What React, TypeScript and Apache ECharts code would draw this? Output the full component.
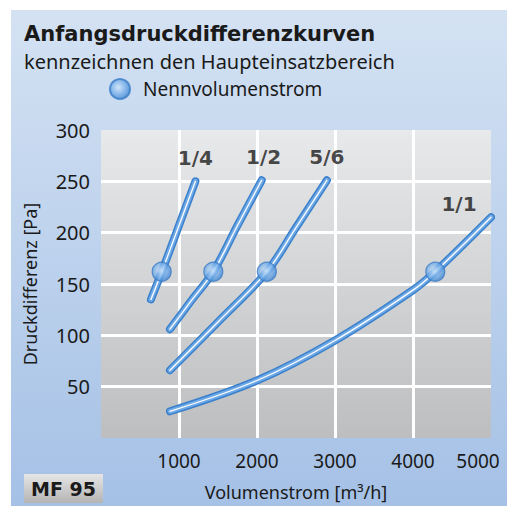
import React, { useEffect, useRef } from "react";
import * as echarts from "echarts";

// Curves: volume flow [m³/h] vs. pressure difference [Pa]
const curveNames = ["1/4", "1/2", "5/6", "1/1"];
const q14 = [640, 780, 1000, 1210];
const p14 = [135, 162, 207, 250];
const q12 = [884, 1150, 1440, 1750, 2060];
const p12 = [106, 133, 162, 207, 251];
const q56 = [884, 1500, 2126, 2500, 2896];
const p56 = [66, 113, 162, 205, 251];
const q11 = [884, 2000, 3000, 4000, 4286, 5000];
const p11 = [26, 56, 95, 144, 162, 215];

// Nominal volume flow points
const nominalQ = [778, 1440, 2126, 4286];
const nominalP = [162, 162, 162, 162];

const xTicks = [0, 1000, 2000, 3000, 4000, 5000];
const yTicks = [0, 50, 100, 150, 200, 250, 300];

const FONT = "Noto Sans";
const BOLD = "DejaVu Sans";
const INK = "#1a1a1a";

export default function App() {
  const ref = useRef<HTMLDivElement>(null);
  useEffect(() => {
    if (!ref.current) return;
    const chart = echarts.init(ref.current, undefined, { renderer: "svg" });
    const curves = [
      [q14, p14],
      [q12, p12],
      [q56, p56],
      [q11, p11],
    ];
    const lineLayers = [
      { width: 8, color: "#3a80cc" },
      { width: 5, color: "#6ea9e6" },
      { width: 1.3, color: "#ffffff" },
    ];
    const lineSeries: any[] = [];
    curves.forEach(([q, p], ci) => {
      lineLayers.forEach((layer, li) => {
        lineSeries.push({
          type: "line",
          name: curveNames[ci] + "_" + li,
          data: q.map((x, i) => [x, p[i]]),
          smooth: 0.35,
          symbol: "none",
          silent: true,
          z: 2 + li,
          lineStyle: { width: layer.width, color: layer.color, cap: "round", join: "round" },
        });
      });
    });
    const labelOffsets = [
      [0, 0],
      [2, 0],
      [0, 0],
      [-32, 10],
    ];
    const labelSeries = {
      type: "scatter",
      name: "labels",
      silent: true,
      symbolSize: 1,
      itemStyle: { color: "transparent" },
      z: 6,
      data: curves.map(([q, p], ci) => ({
        value: [q[q.length - 1], p[p.length - 1]],
        name: curveNames[ci],
        label: {
          show: true,
          position: "top",
          distance: 13,
          offset: labelOffsets[ci],
          formatter: curveNames[ci],
          fontFamily: BOLD,
          fontWeight: "bold",
          fontSize: 20,
          color: INK,
        },
      })),
    };
    const markerColor = new echarts.graphic.RadialGradient(0.42, 0.42, 0.62, [
      { offset: 0, color: "#d2e6fa" },
      { offset: 0.55, color: "#7ab1ea" },
      { offset: 1, color: "#3c84d1" },
    ]);
    const nominalSeries = {
      type: "scatter",
      name: "Nennvolumenstrom",
      data: nominalQ.map((x, i) => [x, nominalP[i]]),
      symbol: "circle",
      symbolSize: 19,
      z: 7,
      itemStyle: { color: markerColor, borderColor: "#3a7cc6", borderWidth: 1.2 },
    };

    chart.setOption({
      animation: false,
      graphic: [
        {
          type: "rect",
          shape: { x: 11, y: 10, width: 496, height: 496 },
          style: {
            fill: new echarts.graphic.LinearGradient(0, 0, 0, 1, [
              { offset: 0, color: "#d4e2f3" },
              { offset: 1, color: "#a5c1e6" },
            ]),
          },
          z: -10,
          silent: true,
        },
        {
          type: "group",
          x: 24,
          y: 474,
          children: [
            {
              type: "rect",
              shape: { x: 0, y: 0, width: 79, height: 29 },
              style: {
                fill: new echarts.graphic.LinearGradient(0, 0, 0, 1, [
                  { offset: 0, color: "#e6e6e6" },
                  { offset: 1, color: "#b4b4b4" },
                ]),
              },
            },
            {
              type: "text",
              x: 39.5,
              y: 15,
              style: {
                text: "MF 95",
                fontFamily: BOLD,
                fontWeight: "bold",
                fontSize: 19,
                fill: INK,
                align: "center",
                verticalAlign: "middle",
              },
            },
          ],
        },
      ],
      title: {
        text: "Anfangsdruckdifferenzkurven",
        subtext: "kennzeichnen den Haupteinsatzbereich",
        left: 19,
        top: 18,
        itemGap: 7,
        textStyle: { fontFamily: BOLD, fontWeight: "bold", fontSize: 21, color: INK },
        subtextStyle: { fontFamily: FONT, fontSize: 20, color: INK },
      },
      legend: {
        data: ["Nennvolumenstrom"],
        left: 104,
        top: 73,
        itemWidth: 20,
        itemHeight: 20,
        itemGap: 8,
        icon: "circle",
        textStyle: { fontFamily: FONT, fontSize: 19, color: INK, padding: [0, 0, 0, 8] },
      },
      grid: {
        left: 101,
        top: 130,
        right: 16,
        bottom: 66,
        show: true,
        borderWidth: 0,
        backgroundColor: new echarts.graphic.LinearGradient(0, 0, 0, 1, [
          { offset: 0, color: "#e8e9eb" },
          { offset: 1, color: "#bdbec0" },
        ]),
      },
      xAxis: {
        type: "value",
        min: xTicks[0],
        max: xTicks[xTicks.length - 1],
        interval: 1000,
        name: "Volumenstrom [m³/h]",
        nameLocation: "middle",
        nameGap: 45,
        nameTextStyle: { fontFamily: FONT, fontSize: 18, color: INK },
        axisLine: { show: false },
        axisTick: { show: false },
        axisLabel: {
          margin: 13,
          fontFamily: FONT,
          fontSize: 19,
          color: INK,
          formatter: (v: number) =>
            v === xTicks[0] ? "" : v === xTicks[xTicks.length - 1] ? "{r|" + v + "}" : String(v),
          rich: { r: { fontFamily: FONT, fontSize: 19, color: INK, padding: [0, 26, 0, 0] } },
        },
        splitLine: { show: true, showMinLine: false, showMaxLine: false, lineStyle: { color: "#ffffff", width: 3 } },
      },
      yAxis: {
        type: "value",
        min: yTicks[0],
        max: yTicks[yTicks.length - 1],
        interval: 50,
        name: "Druckdifferenz [Pa]",
        nameLocation: "middle",
        nameGap: 62,
        nameRotate: 90,
        nameTextStyle: { fontFamily: FONT, fontSize: 18, color: INK },
        axisLine: { show: false },
        axisTick: { show: false },
        axisLabel: {
          margin: 11,
          fontFamily: FONT,
          fontSize: 20,
          color: INK,
          formatter: (v: number) => (v === yTicks[0] ? "" : String(v)),
        },
        splitLine: { show: true, showMinLine: false, showMaxLine: false, lineStyle: { color: "#ffffff", width: 3 } },
      },
      series: [...lineSeries, labelSeries, nominalSeries],
    });
    return () => chart.dispose();
  }, []);
  return (
    <div
      ref={ref}
      style={{ position: "fixed", left: 0, top: 0, width: 507, height: 506, background: "#ffffff" }}
    />
  );
}
